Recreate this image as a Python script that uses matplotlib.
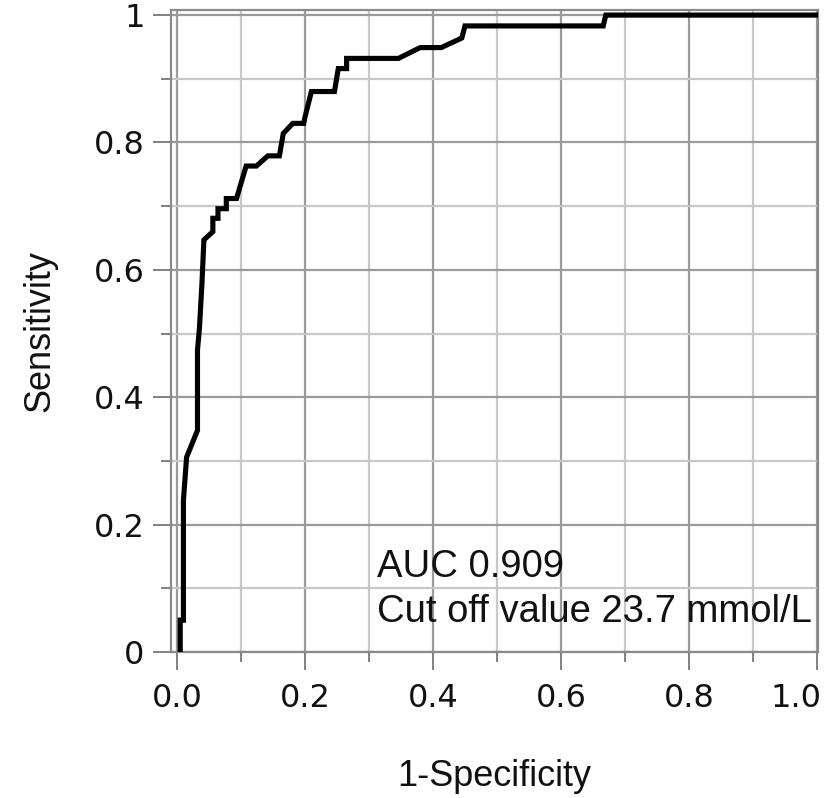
import matplotlib
matplotlib.use("Agg")
import matplotlib.pyplot as plt
from matplotlib.ticker import FixedLocator, FixedFormatter
from matplotlib.transforms import ScaledTranslation

# ROC curve vertices (1-Specificity, Sensitivity)
fpr = [0.005, 0.005, 0.010, 0.010, 0.015, 0.032, 0.032, 0.035, 0.039, 0.042,
       0.056, 0.056, 0.064, 0.064, 0.077, 0.077, 0.093, 0.108, 0.124, 0.142,
       0.160, 0.166, 0.181, 0.198, 0.200, 0.210, 0.246, 0.252, 0.265, 0.265,
       0.346, 0.380, 0.413, 0.445, 0.450, 0.666, 0.670, 1.000]
tpr = [0.000, 0.050, 0.050, 0.238, 0.306, 0.348, 0.474, 0.508, 0.579, 0.647,
       0.660, 0.681, 0.681, 0.696, 0.696, 0.712, 0.712, 0.763, 0.763, 0.779,
       0.779, 0.814, 0.830, 0.830, 0.840, 0.880, 0.880, 0.916, 0.916, 0.932,
       0.932, 0.949, 0.949, 0.964, 0.983, 0.983, 1.000, 1.000]

x_major = [0.0, 0.2, 0.4, 0.6, 0.8, 1.0]
x_labels = ["0.0", "0.2", "0.4", "0.6", "0.8", "1.0"]
x_minor = [0.1, 0.3, 0.5, 0.7, 0.9]
y_major = [0.0, 0.2, 0.4, 0.6, 0.8, 1.0]
y_labels = ["0", "0.2", "0.4", "0.6", "0.8", "1"]
y_minor = [0.1, 0.3, 0.5, 0.7, 0.9]

auc_text = "AUC 0.909"
cutoff_text = "Cut off value 23.7 mmol/L"

fig = plt.figure(figsize=(8.24, 7.98), dpi=100)
ax = fig.add_axes([171 / 824, 1 - 652 / 798, (818 - 171) / 824, (652 - 10) / 798])

ax.set_xlim(-0.0094, 1.0016)
ax.set_ylim(0.0, 1.008)

# grid
for v in x_major:
    ax.axvline(v, color="#9a9a9a", lw=1.6, zorder=1)
for v in x_minor:
    ax.axvline(v, color="#c8c8c8", lw=1.6, zorder=1)
for v in y_major:
    ax.axhline(v, color="#9a9a9a", lw=1.6, zorder=1)
for v in y_minor:
    ax.axhline(v, color="#c8c8c8", lw=1.6, zorder=1)

ax.plot(fpr, tpr, color="black", lw=3.7, solid_joinstyle="miter", zorder=3,
        clip_on=True)

ax.xaxis.set_major_locator(FixedLocator(x_major))
ax.xaxis.set_major_formatter(FixedFormatter(x_labels))
ax.xaxis.set_minor_locator(FixedLocator(x_minor))
ax.yaxis.set_major_locator(FixedLocator(y_major))
ax.yaxis.set_major_formatter(FixedFormatter(y_labels))
ax.yaxis.set_minor_locator(FixedLocator(y_minor))

ax.tick_params(which="major", length=13, width=1.3, color="#777777",
               labelsize=23, labelcolor="#111111")
ax.tick_params(which="minor", length=7.5, width=1.3, color="#777777")
ax.tick_params(axis="x", which="major", pad=9)
ax.tick_params(axis="y", which="major", pad=6)

# keep the last x tick label inside the figure
fig.canvas.draw()
last = ax.get_xticklabels()[-1]
last.set_horizontalalignment("right")
last.set_transform(last.get_transform() + ScaledTranslation(4 / 100, 0, fig.dpi_scale_trans))

for s in ax.spines.values():
    s.set_color("#8a8a8a")
    s.set_linewidth(1.6)

lab_font = dict(family=["Liberation Sans", "DejaVu Sans"], size=26, color="#111111")
ax.set_xlabel("1-Specificity", labelpad=33, **lab_font)
ax.set_ylabel("Sensitivity", labelpad=26, **lab_font)

txt_font = dict(family=["Liberation Sans", "DejaVu Sans"], size=27.5, color="#111111")
ax.text(0.313, 0.117, auc_text, ha="left", va="baseline", **txt_font)
ax.text(0.313, 0.047, cutoff_text, ha="left", va="baseline", **txt_font)

fig.savefig("out.png", dpi=100)
